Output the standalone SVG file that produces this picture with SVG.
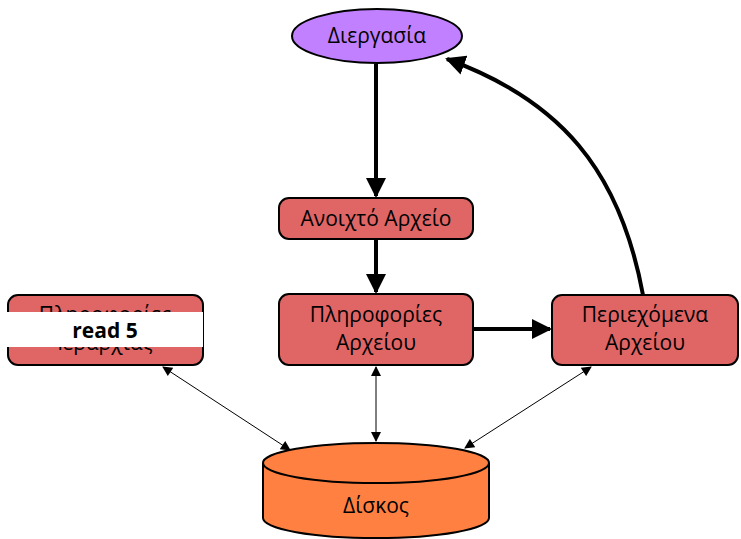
<svg xmlns="http://www.w3.org/2000/svg" width="741" height="539" viewBox="0 0 741 539">
<style>
.box{fill:#e06666;stroke:#000;stroke-width:2}
.t{font-family:"Open Sans","DejaVu Sans",sans-serif;font-size:21px;fill:#000;text-anchor:middle}
.thick{stroke:#000;stroke-width:4;fill:none}
.thin{stroke:#000;stroke-width:1;fill:none}
</style>
<defs>
<marker id="big" viewBox="0 0 10 10" refX="9" refY="5" markerWidth="5" markerHeight="5" orient="auto" markerUnits="strokeWidth"><path d="M0,0L10,5L0,10z" fill="#000"/></marker>
<marker id="sm" viewBox="0 0 10 10" refX="9" refY="5" markerWidth="12" markerHeight="10" orient="auto-start-reverse" markerUnits="strokeWidth"><path d="M0,0L10,5L0,10z" fill="#000"/></marker>
</defs>
<g id="connectors">
<line class="thick" x1="376" y1="64" x2="376" y2="196" marker-end="url(#big)"/>
<line class="thick" x1="376" y1="239" x2="376" y2="292" marker-end="url(#big)"/>
<line class="thick" x1="473" y1="329" x2="550" y2="329" marker-end="url(#big)"/>
<path class="thick" d="M643,295 C620,170 560,100 447,59" marker-end="url(#big)"/>
<line class="thin" x1="163" y1="367" x2="290" y2="450" marker-start="url(#sm)" marker-end="url(#sm)"/>
<line class="thin" x1="376" y1="367" x2="376" y2="441" marker-start="url(#sm)" marker-end="url(#sm)"/>
<line class="thin" x1="591" y1="367" x2="465" y2="448" marker-start="url(#sm)" marker-end="url(#sm)"/>
</g>
<g id="process">
<ellipse cx="377" cy="36" rx="85" ry="27" fill="#c080ff" stroke="#000" stroke-width="2"/>
<text class="t" x="377" y="43">Διεργασία</text>
</g>
<g id="open-file">
<rect class="box" x="279" y="198" width="194" height="41" rx="10"/>
<text class="t" x="376" y="226">Ανοιχτό Αρχείο</text>
</g>
<g id="file-info">
<rect class="box" x="279" y="294" width="194" height="71" rx="10"/>
<text class="t" x="376" y="322">Πληροφορίες</text>
<text class="t" x="376" y="350">Αρχείου</text>
</g>
<g id="file-content">
<rect class="box" x="552" y="295" width="186" height="70" rx="10"/>
<text class="t" x="645" y="322">Περιεχόμενα</text>
<text class="t" x="645" y="350">Αρχείου</text>
</g>
<g id="hierarchy-info">
<rect class="box" x="8" y="295" width="195" height="70" rx="10"/>
<text class="t" x="105" y="322">Πληροφορίες</text>
<text class="t" x="105" y="350">Ιεραρχίας</text>
</g>
<g id="disk">
<path d="M263,463 L263,518 A113,20 0 0 0 489,518 L489,463" fill="#ff8040" stroke="#000" stroke-width="2"/>
<ellipse cx="376" cy="463" rx="113" ry="20" fill="#ff8040" stroke="#000" stroke-width="2"/>
<text class="t" x="376" y="513">Δίσκος</text>
</g>
<g id="banner">
<rect x="0" y="312" width="203" height="35" fill="#fff"/>
<text x="105" y="338" font-family="'Open Sans','DejaVu Sans',sans-serif" font-size="21" font-weight="bold" text-anchor="middle">read 5</text>
</g>
</svg>
